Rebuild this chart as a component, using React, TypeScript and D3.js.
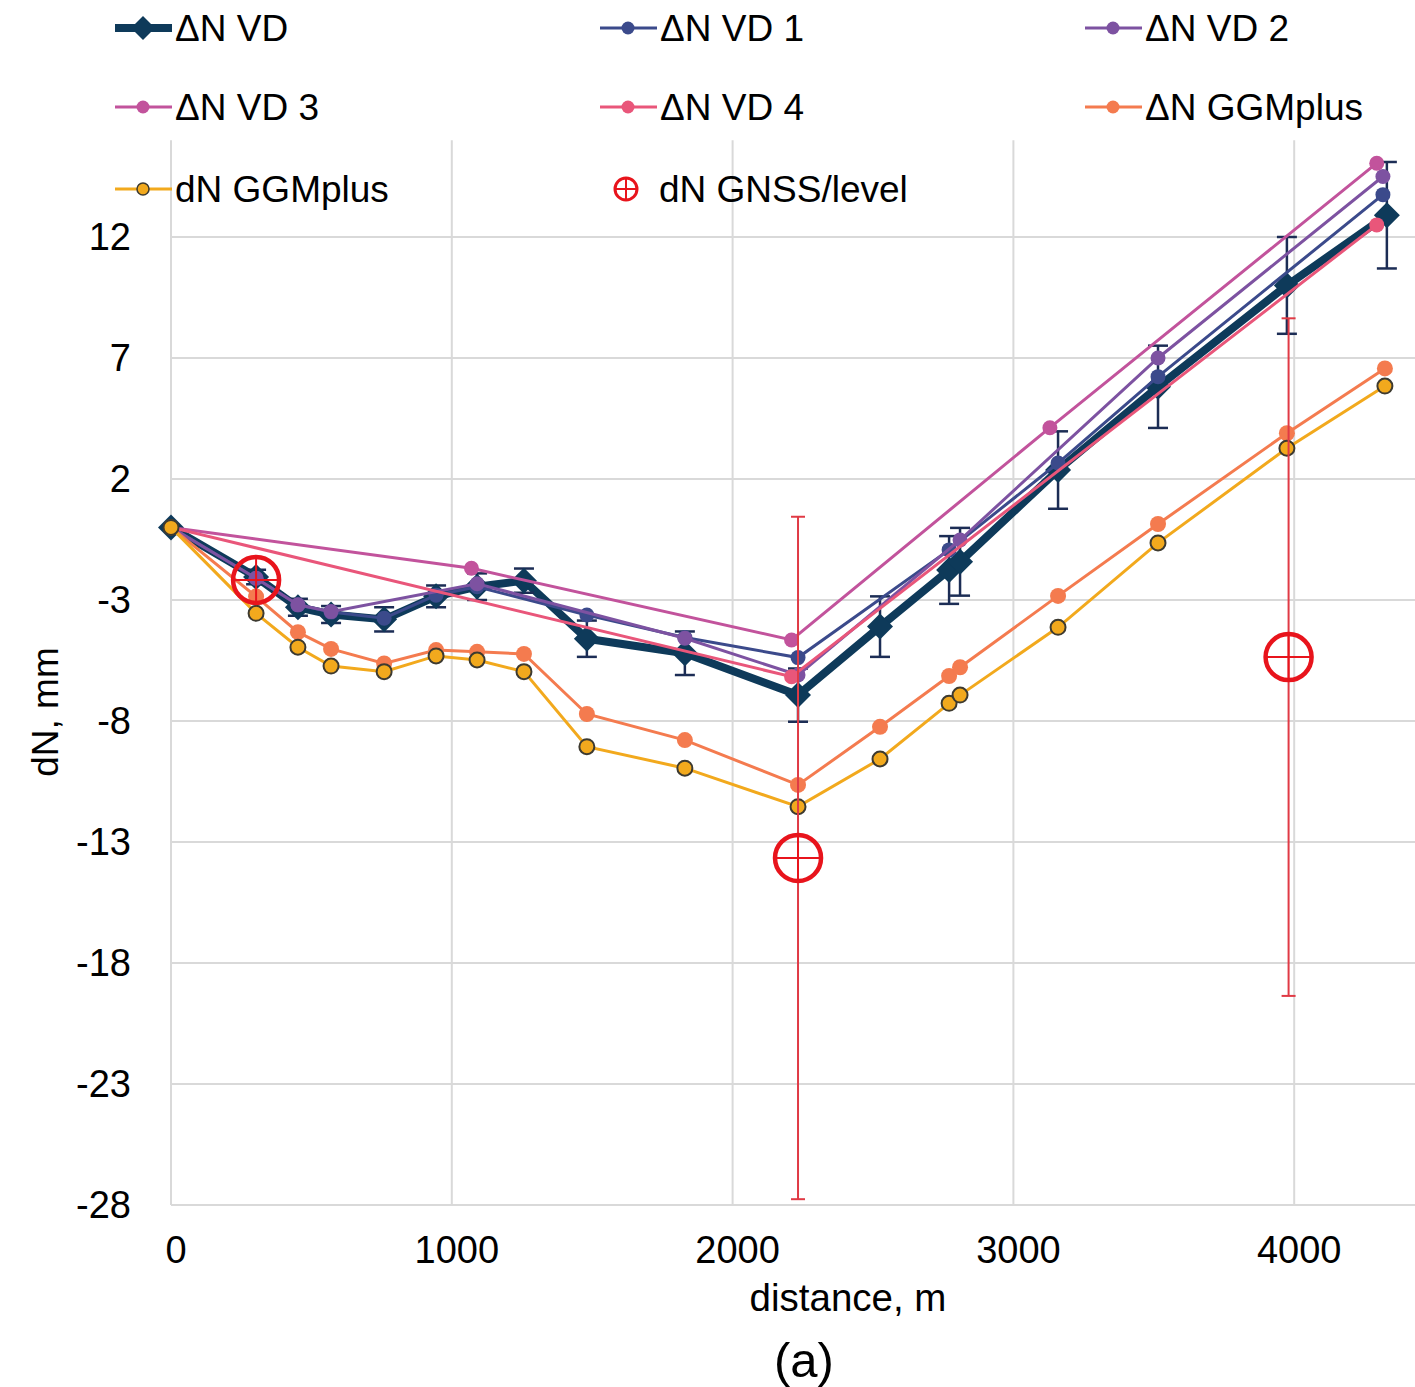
import * as d3 from "d3";

// distances along the profile, m
const distVD = [0, 303, 452, 570, 759, 944, 1090, 1257, 1481, 1830, 2233, 2525, 2771, 2810, 3159, 3515, 3974, 4330];
const valVD = [0, -2.05, -3.3, -3.6, -3.8, -2.85, -2.45, -2.2, -4.6, -5.2, -6.93, -4.1, -1.76, -1.42, 2.37, 5.81, 10.0, 12.9];
const errVD = [0, 0.3, 0.35, 0.35, 0.5, 0.45, 0.55, 0.5, 0.75, 0.9, 1.1, 1.25, 1.4, 1.4, 1.6, 1.7, 2.0, 2.2];

const distVD1 = [0, 303, 452, 570, 759, 944, 1090, 1481, 1830, 2233, 2771, 3159, 3515, 4316];
const valVD1 = [0, -2.1, -3.2, -3.5, -3.75, -2.8, -2.45, -3.62, -4.55, -5.38, -0.93, 2.66, 6.23, 13.75];

const distVD2 = [0, 303, 452, 570, 1090, 1830, 2233, 2810, 3515, 4316];
const valVD2 = [0, -2.1, -3.2, -3.48, -2.33, -4.58, -6.1, -0.52, 7.0, 14.5];

const distVD3 = [0, 1070, 2210, 3130, 4294];
const valVD3 = [0, -1.69, -4.65, 4.12, 15.05];

const distVD4 = [0, 2210, 4294];
const valVD4 = [0, -6.17, 12.5];

const distGGM = [0, 303, 452, 570, 759, 944, 1090, 1257, 1481, 1830, 2233, 2525, 2771, 2810, 3159, 3515, 3974, 4323];
const valDeltaGGM = [0, -2.86, -4.33, -5.02, -5.62, -5.07, -5.14, -5.23, -7.71, -8.79, -10.64, -8.24, -6.14, -5.78, -2.83, 0.14, 3.89, 6.57];
const valDnGGM = [0, -3.55, -4.95, -5.73, -5.96, -5.31, -5.48, -5.96, -9.06, -9.95, -11.54, -9.57, -7.27, -6.93, -4.13, -0.64, 3.27, 5.84];

const distGNSS = [303, 2233, 3980];
const valGNSS = [-2.17, -13.66, -5.36];
const errGNSS = [0, 14.1, 14.0];

const xTicks = [0, 1000, 2000, 3000, 4000];
const yTicks = [-28, -23, -18, -13, -8, -3, 2, 7, 12];

const FONT = "'Liberation Sans', Arial, sans-serif";

const thin = [
  { name: "ΔN VD 1", dist: distVD1, val: valVD1, color: "#3b4a8b" },
  { name: "ΔN VD 2", dist: distVD2, val: valVD2, color: "#7d52a1" },
  { name: "ΔN VD 3", dist: distVD3, val: valVD3, color: "#c2539c" },
  { name: "ΔN VD 4", dist: distVD4, val: valVD4, color: "#e9567a" },
];

export default function App() {
  const width = 1415;
  const height = 1387;
  const left = 171;
  const bottom = 1205;

  const x = d3.scaleLinear().domain([0, 4500]).range([left, left + 4500 * 0.2808]);
  const y = d3.scaleLinear().domain([-28, 16]).range([bottom, bottom - 44 * 24.2]);
  const top = y(16);

  const line = d3.line<[number, number]>().x((d) => x(d[0])).y((d) => y(d[1]));
  const pts = (dist: number[], val: number[]) => dist.map((d, i) => [d, val[i]] as [number, number]);

  const diamond = (cx: number, cy: number, s: number) =>
    `M${cx},${cy - s}L${cx + s},${cy}L${cx},${cy + s}L${cx - s},${cy}Z`;

  const vdColor = "#0e3a5a";
  const ggmColor = "#f47b4f";
  const dnColor = "#f2a91d";
  const red = "#e8141c";

  // legend layout
  const legendRows = [28, 107, 189];
  const legendCols = [115, 600, 1085];

  return (
    <div style={{ position: "absolute", left: 0, top: 0 }}>
      <svg width={width} height={height} style={{ display: "block", background: "#fff" }}>
        {/* grid */}
        {yTicks.map((t) => (
          <line key={"gy" + t} x1={left} x2={width} y1={y(t)} y2={y(t)} stroke="#d9d9d9" strokeWidth={2} />
        ))}
        {xTicks.map((t) => (
          <line key={"gx" + t} x1={x(t)} x2={x(t)} y1={top} y2={bottom} stroke="#d9d9d9" strokeWidth={2} />
        ))}

        {/* tick labels */}
        {yTicks.map((t) => (
          <text key={"ty" + t} x={131} y={y(t)} dy="0.35em" textAnchor="end" fontFamily={FONT} fontSize={38} fill="#000">
            {t}
          </text>
        ))}
        {xTicks.map((t) => (
          <text key={"tx" + t} x={x(t) + 5} y={1263} textAnchor="middle" fontFamily={FONT} fontSize={38} fill="#000">
            {t}
          </text>
        ))}
        <text x={848} y={1311} textAnchor="middle" fontFamily={FONT} fontSize={38.5}>
          distance, m
        </text>
        <text transform="translate(58,712) rotate(-90)" textAnchor="middle" fontFamily={FONT} fontSize={37}>
          dN, mm
        </text>
        <text x={804} y={1377} textAnchor="middle" fontFamily={FONT} fontSize={49}>
          (a)
        </text>

        {/* ΔN VD thick series with error bars */}
        <path d={line(pts(distVD, valVD)) || ""} fill="none" stroke={vdColor} strokeWidth={8} strokeLinejoin="round" />
        {distVD.map((d, i) =>
          errVD[i] > 0 ? (
            <g key={"evd" + i} stroke="#1c2d55" strokeWidth={2.5}>
              <line x1={x(d)} x2={x(d)} y1={y(valVD[i] + errVD[i])} y2={y(valVD[i] - errVD[i])} />
              <line x1={x(d) - 10} x2={x(d) + 10} y1={y(valVD[i] + errVD[i])} y2={y(valVD[i] + errVD[i])} />
              <line x1={x(d) - 10} x2={x(d) + 10} y1={y(valVD[i] - errVD[i])} y2={y(valVD[i] - errVD[i])} />
            </g>
          ) : null
        )}
        {distVD.map((d, i) => (
          <path key={"mvd" + i} d={diamond(x(d), y(valVD[i]), 13)} fill={vdColor} />
        ))}

        {/* thin ΔN VD variants */}
        {thin.map((s) => (
          <g key={s.name}>
            <path d={line(pts(s.dist, s.val)) || ""} fill="none" stroke={s.color} strokeWidth={3} />
            {s.dist.map((d, i) => (
              <circle key={i} cx={x(d)} cy={y(s.val[i])} r={7.5} fill={s.color} />
            ))}
          </g>
        ))}

        {/* ΔN GGMplus */}
        <path d={line(pts(distGGM, valDeltaGGM)) || ""} fill="none" stroke={ggmColor} strokeWidth={3} />
        {distGGM.map((d, i) => (
          <circle key={"dg" + i} cx={x(d)} cy={y(valDeltaGGM[i])} r={8} fill={ggmColor} />
        ))}

        {/* dN GGMplus */}
        <path d={line(pts(distGGM, valDnGGM)) || ""} fill="none" stroke={dnColor} strokeWidth={3} />
        {distGGM.map((d, i) => (
          <circle key={"dn" + i} cx={x(d)} cy={y(valDnGGM[i])} r={7.5} fill={dnColor} stroke="#3d3a30" strokeWidth={2} />
        ))}

        {/* dN GNSS/level */}
        {distGNSS.map((d, i) => {
          const cx = x(d);
          const cy = y(valGNSS[i]);
          const e = errGNSS[i];
          return (
            <g key={"gn" + i}>
              {e > 0 && (
                <g stroke="#e03a45" strokeWidth={2}>
                  <line x1={cx} x2={cx} y1={y(valGNSS[i] + e)} y2={y(valGNSS[i] - e)} />
                  <line x1={cx - 7} x2={cx + 7} y1={y(valGNSS[i] + e)} y2={y(valGNSS[i] + e)} />
                  <line x1={cx - 7} x2={cx + 7} y1={y(valGNSS[i] - e)} y2={y(valGNSS[i] - e)} />
                </g>
              )}
              <circle cx={cx} cy={cy} r={23} fill="none" stroke={red} strokeWidth={4.5} />
              <line x1={cx - 23} x2={cx + 23} y1={cy} y2={cy} stroke={red} strokeWidth={2} />
              <line x1={cx} x2={cx} y1={cy - 23} y2={cy + 23} stroke={red} strokeWidth={2} />
            </g>
          );
        })}

        {/* legend */}
        <g fontFamily={FONT} fontSize={37} fill="#000">
          <line x1={legendCols[0]} x2={legendCols[0] + 57} y1={legendRows[0]} y2={legendRows[0]} stroke={vdColor} strokeWidth={8} />
          <path d={diamond(legendCols[0] + 28, legendRows[0], 12)} fill={vdColor} />
          <text x={legendCols[0] + 60} y={legendRows[0]} dy="0.36em">ΔN VD</text>

          {[
            { s: thin[0], c: 1, r: 0 },
            { s: thin[1], c: 2, r: 0 },
            { s: thin[2], c: 0, r: 1 },
            { s: thin[3], c: 1, r: 1 },
          ].map(({ s, c, r }) => (
            <g key={"lg" + s.name}>
              <line x1={legendCols[c]} x2={legendCols[c] + 57} y1={legendRows[r]} y2={legendRows[r]} stroke={s.color} strokeWidth={3} />
              <circle cx={legendCols[c] + 28} cy={legendRows[r]} r={6.5} fill={s.color} />
              <text x={legendCols[c] + 60} y={legendRows[r]} dy="0.36em">{s.name}</text>
            </g>
          ))}

          <line x1={legendCols[2]} x2={legendCols[2] + 57} y1={legendRows[1]} y2={legendRows[1]} stroke={ggmColor} strokeWidth={3} />
          <circle cx={legendCols[2] + 28} cy={legendRows[1]} r={6.5} fill={ggmColor} />
          <text x={legendCols[2] + 60} y={legendRows[1]} dy="0.36em">ΔN GGMplus</text>

          <line x1={legendCols[0]} x2={legendCols[0] + 57} y1={legendRows[2]} y2={legendRows[2]} stroke={dnColor} strokeWidth={3} />
          <circle cx={legendCols[0] + 28} cy={legendRows[2]} r={6} fill={dnColor} stroke="#3d3a30" strokeWidth={1.5} />
          <text x={legendCols[0] + 60} y={legendRows[2]} dy="0.36em">dN GGMplus</text>

          <circle cx={legendCols[1] + 26} cy={legendRows[2]} r={11} fill="none" stroke={red} strokeWidth={3} />
          <line x1={legendCols[1] + 15} x2={legendCols[1] + 37} y1={legendRows[2]} y2={legendRows[2]} stroke={red} strokeWidth={2} />
          <line x1={legendCols[1] + 26} x2={legendCols[1] + 26} y1={legendRows[2] - 11} y2={legendRows[2] + 11} stroke={red} strokeWidth={2} />
          <text x={legendCols[1] + 59} y={legendRows[2]} dy="0.36em">dN GNSS/level</text>
        </g>
      </svg>
    </div>
  );
}
